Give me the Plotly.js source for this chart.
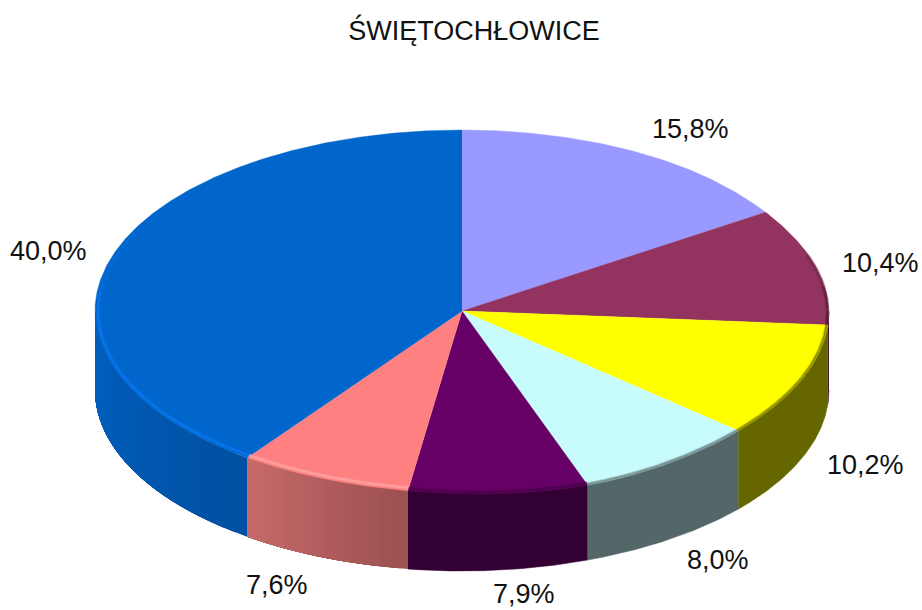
<!DOCTYPE html>
<html><head><meta charset="utf-8">
<script src="https://cdn.plot.ly/plotly-3.0.1.min.js"></script>
<style>html,body{margin:0;padding:0;background:#fff}#c{width:922px;height:610px}</style>
</head><body><div id="c"></div>
<script>
const chartTitle = 'ŚWIĘTOCHŁOWICE';
const values = [15.8, 10.4, 10.2, 8.0, 7.9, 7.6, 40.0];
const topColors = ['#9999FF', '#933360', '#FFFF00', '#C8FCFC', '#660066', '#FF8080', '#0066CC'];
const sideStart = ['#5c5c99', '#4d1a33', '#666600', '#536668', '#330033', '#C76A6A', '#0060C0'];
const sideEnd   = ['#5c5c99', '#4d1a33', '#666600', '#536668', '#330033', '#9C5050', '#0050A2'];
const rimColors = ['#7F7FD8', '#4d1a33', '#808000', '#6E8486', '#4A004A', '#FFA6A6', '#0A78F0'];
const rimOffset = [1, 1, 1, 1, 2, 3, 3];
const labelX = [690, 880, 865, 718, 524, 277, 48];
const labelY = [129, 263, 465, 560, 594, 585, 251];

const cx = 462, cy = 311, rx = 367, ry = 181, depth = 79;
const rad = d => d * Math.PI / 180;
const bump = (d, c) => Math.exp(-Math.pow((d - c) / 22, 2));
// slight perspective of the drawn disc: its outline is not a perfect ellipse
const qx = (d, k = 0) => cx + (rx - k) * Math.sin(rad(d));
const qy = (d, k = 0) => cy - (ry - k) * Math.cos(rad(d));
const px = (d, k = 0) => qx(d, k) - 4 * bump(d, 57);
const py = (d, k = 0) => qy(d, k) + 4 * bump(d, 160);
const hex = c => [1, 3, 5].map(i => parseInt(c.substr(i, 2), 16));
const mix = (a, b, t) => { const A = hex(a), B = hex(b); return 'rgb(' + A.map((v, i) => Math.round(v + (B[i] - v) * t)).join(',') + ')'; };

const total = values.reduce((a, b) => a + b, 0);
const bounds = [0];
values.forEach(v => bounds.push(bounds[bounds.length - 1] + v / total * 360));

const traces = [];
const poly = (x, y, color, w) => traces.push({ type: 'scatter', mode: 'lines', x, y, fill: 'toself', fillcolor: color, line: { color, width: w }, hoverinfo: 'skip', showlegend: false });
const arc = (a, b) => { const n = Math.max(2, Math.ceil((b - a) / 0.5)); const d = []; for (let i = 0; i <= n; i++) d.push(a + (b - a) * i / n); return d; };

// side wall, front half only; strips overlap so no seams show
values.forEach((v, i) => {
  const a = Math.max(bounds[i], 90), b = Math.min(bounds[i + 1], 270);
  if (b <= a) return;
  const gradient = sideStart[i] !== sideEnd[i];
  const strips = gradient ? 24 : 1;
  for (let s = 0; s < strips; s++) {
    const s0 = a + (b - a) * s / strips;
    const d = arc(s0, b);
    const x = d.map(t => qx(t)).concat(d.slice().reverse().map(t => qx(t)));
    const y = d.map(t => qy(t) + depth).concat(d.slice().reverse().map(t => qy(t)));
    const t = gradient ? 1 - (s + 0.5) / strips : 0;
    poly(x, y, mix(sideStart[i], sideEnd[i], t), gradient ? 0 : 0.5);
  }
});

// top faces
values.forEach((v, i) => {
  const d = arc(bounds[i], bounds[i + 1]);
  poly([cx].concat(d.map(t => px(t))), [cy].concat(d.map(t => py(t))), topColors[i], 0.4);
});

// bevel on the rim of the top face
values.forEach((v, i) => {
  const line = (a, b, w, op) => {
    a = Math.max(a, bounds[i]); b = Math.min(b, bounds[i + 1]);
    if (b <= a) return;
    const d = arc(a, b);
    traces.push({ type: 'scatter', mode: 'lines', x: d.map(t => px(t, rimOffset[i])), y: d.map(t => py(t, rimOffset[i])), line: { color: rimColors[i], width: w }, opacity: op, hoverinfo: 'skip', showlegend: false });
  };
  line(72, 280, 4, 0.3);
  line(82, 276, 2.4, 0.5);
  line(90, 272, 1.2, 0.7);
  line(280, 296, 2.5, 0.25);
});

const annotations = values.map((v, i) => ({
  x: labelX[i], y: labelY[i], xref: 'x', yref: 'y', showarrow: false, xanchor: 'center', yanchor: 'middle',
  text: v.toFixed(1).replace('.', ',') + '%',
  font: { family: 'Liberation Sans, Arial, sans-serif', size: 27, color: '#111' }
}));

const hidden = { visible: false, fixedrange: true };
Plotly.newPlot('c', traces, {
  width: 922, height: 610,
  margin: { l: 0, r: 0, t: 0, b: 0 },
  paper_bgcolor: '#fff', plot_bgcolor: '#fff',
  showlegend: false, hovermode: false,
  title: { text: chartTitle, x: 474 / 922, xanchor: 'center', y: 1 - 31 / 610, yanchor: 'middle', font: { family: 'Liberation Sans, Arial, sans-serif', size: 27, color: '#111' } },
  xaxis: Object.assign({ range: [0, 922] }, hidden),
  yaxis: Object.assign({ range: [610, 0] }, hidden),
  annotations
}, { displayModeBar: false, staticPlot: true });
</script></body></html>
